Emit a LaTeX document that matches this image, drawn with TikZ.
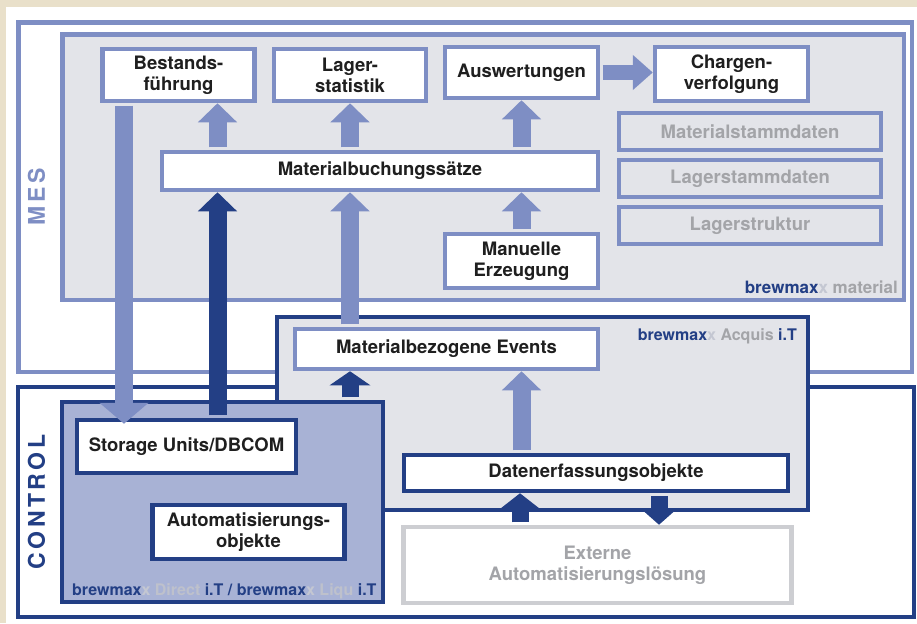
\documentclass[tikz,border=0pt]{standalone}
\usepackage{fontspec}
\setmainfont{TeX Gyre Heros}
\newfontfamily\spacedfont[LetterSpace=15]{TeX Gyre Heros}
\usetikzlibrary{arrows.meta}
\definecolor{lblue}{HTML}{7E8EC4}
\definecolor{dblue}{HTML}{233F85}
\definecolor{panel}{HTML}{E3E4E9}
\definecolor{dfill}{HTML}{A8B2D5}
\definecolor{gtext}{HTML}{A3A4A8}
\definecolor{ltext}{HTML}{C4C7D2}
\definecolor{dtext}{HTML}{BEC1CC}
\definecolor{egray}{HTML}{CDCED2}
\definecolor{beige}{HTML}{E9E0CA}
\newcommand{\lab}{\fontsize{18.5}{21}\selectfont\bfseries}
\newcommand{\brand}{\fontsize{16}{18}\selectfont\bfseries}
\newcommand{\bmx}{\textcolor{dblue}{brewmax}\textcolor{ltext}{x}}

\begin{document}
\begin{tikzpicture}[x=1pt,y=-1pt,
    frame/.style={draw=lblue,line width=4.5pt,inner sep=0pt},
    box/.style={draw=lblue,fill=white,line width=4.5pt,inner sep=0pt,align=center,font=\lab,text=black!88},
    dbox/.style={box,draw=dblue},
    sbox/.style={box,fill=none,text=gtext,minimum width=262pt,minimum height=37pt},
    lar/.style={draw=lblue,line width=18pt,shorten <=2.5pt,-{Triangle[width=38pt,length=19pt]}},
    dar/.style={lar,draw=dblue}]
    \useasboundingbox (0,0) rectangle (917,623);
    \fill[beige] (0,0) rectangle (917,623);
    \fill[white] (6,7) rectangle (917,623);
    % MES
    \node[frame,fill=white,minimum width=893.5pt,minimum height=349.5pt] (mes) at (465.25,197.25) {};
    \node[frame,fill=panel,minimum width=841.5pt,minimum height=265.5pt] (mat) at (483.25,167.25) {};
    \node[rotate=90,text=lblue,font=\spacedfont\fontsize{23}{23}\selectfont\bfseries] (mesl) at (36.5,197) {MES};
    % CONTROL
    \node[frame,draw=dblue,fill=white,minimum width=896pt,minimum height=230pt] (ctrl) at (466,502) {};
    \node[frame,draw=dblue,fill=panel,minimum width=531pt,minimum height=193pt] (acq) at (542.5,413.5) {};
    \node[frame,draw=dblue,fill=dfill,minimum width=321pt,minimum height=200pt] (dir) at (222.5,502) {};
    \node[rotate=90,text=dblue,font=\spacedfont\fontsize{23}{23}\selectfont\bfseries] (ctrll) at (36.5,502) {CONTROL};

    % boxes
    \node[box,minimum width=152pt,minimum height=52pt] (best) at (178.5,75) {Bestands-\\führung};
    \node[box,minimum width=152pt,minimum height=52pt] (lag) at (350,75) {Lager-\\statistik};
    \node[box,minimum width=153pt,minimum height=51pt] (ausw) at (521.5,72.5) {Auswertungen};
    \node[box,minimum width=153pt,minimum height=54pt] (charg) at (731.5,74) {Chargen-\\verfolgung};
    \node[sbox] (mstd) at (750,131.5) {Materialstammdaten};
    \node[sbox] (lstd) at (750,178.5) {Lagerstammdaten};
    \node[sbox] (lstr) at (750,225.5) {Lagerstruktur};
    \node[box,minimum width=436pt,minimum height=38pt] (buch) at (380,171) {Materialbuchungssätze};
    \node[box,minimum width=153pt,minimum height=54pt] (manu) at (521.5,261) {Manuelle\\Erzeugung};
    \node[box,minimum width=303pt,minimum height=40pt] (events) at (446.5,349) {Materialbezogene Events};
    \node[dbox,minimum width=219pt,minimum height=53pt] (stor) at (186.5,446.5) {Storage Units/DBCOM};
    \node[dbox,minimum width=192pt,minimum height=54pt] (auto) at (248.5,532) {Automatisierungs-\\objekte};
    \node[dbox,minimum width=384pt,minimum height=36pt] (daten) at (596,473) {Datenerfassungsobjekte};
    \node[box,draw=egray,text=gtext,minimum width=388pt,minimum height=76pt] (extern) at (597.5,565) {Externe\\Automatisierungslösung};

    % product labels
    \node[anchor=base east,inner sep=0pt,font=\fontsize{17}{19}\selectfont\bfseries] (lmat) at (898,293) {\bmx\ \textcolor{gtext}{material}};
    \node[anchor=base east,inner sep=0pt,font=\brand] (lacq) at (797,340) {\bmx\ \textcolor{gtext}{Acquis} \textcolor{dblue}{i.T}};
    \node[anchor=base west,inner sep=0pt,font=\brand] (ldir) at (72,595) {\bmx\ \textcolor{dtext}{Direct} \textcolor{dblue}{i.T /} \bmx\ \textcolor{dtext}{Liqu} \textcolor{dblue}{i.T}};

    % arrow columns
    \coordinate (c1) at (124,0);
    \coordinate (c2) at (217.5,0);
    \coordinate (c3) at (350,0);
    \coordinate (c4) at (521.5,0);
    \coordinate (c5) at (520,0);
    \coordinate (c6) at (659,0);

    % arrows
    \draw[lar,shorten >=-6pt,-{Triangle[width=48pt,length=21pt]}] (best.south -| c1) -- (stor.north -| c1);
    \draw[lar] (buch.north -| c2) -- (best.south -| c2);
    \draw[lar] (buch.north -| c3) -- (lag.south -| c3);
    \draw[dar] (stor.north -| c2) -- (buch.south -| c2);
    \draw[lar] (events.north -| c3) -- (buch.south -| c3);
    \draw[lar] (manu.north -| c4) -- (buch.south -| c4);
    \draw[lar] (buch.north -| c4) -- (ausw.south -| c4);
    \draw[lar,line width=15pt,-{Triangle[width=34pt,length=20pt]}] (ausw.east) -- (charg.west |- ausw.east);
    \draw[dar,line width=17pt,-{Triangle[width=40pt,length=14pt]}] (dir.north -| c3) -- (events.south -| c3);
    \draw[lar] (daten.north -| c4) -- (events.south -| c4);
    \draw[dar,line width=17pt,-{Triangle[width=45pt,length=18pt]}] (extern.north -| c5) -- (daten.south -| c5);
    \draw[dar,line width=17pt,-{Triangle[width=33pt,length=15pt]}] (daten.south -| c6) -- (extern.north -| c6);
\end{tikzpicture}
\end{document}
